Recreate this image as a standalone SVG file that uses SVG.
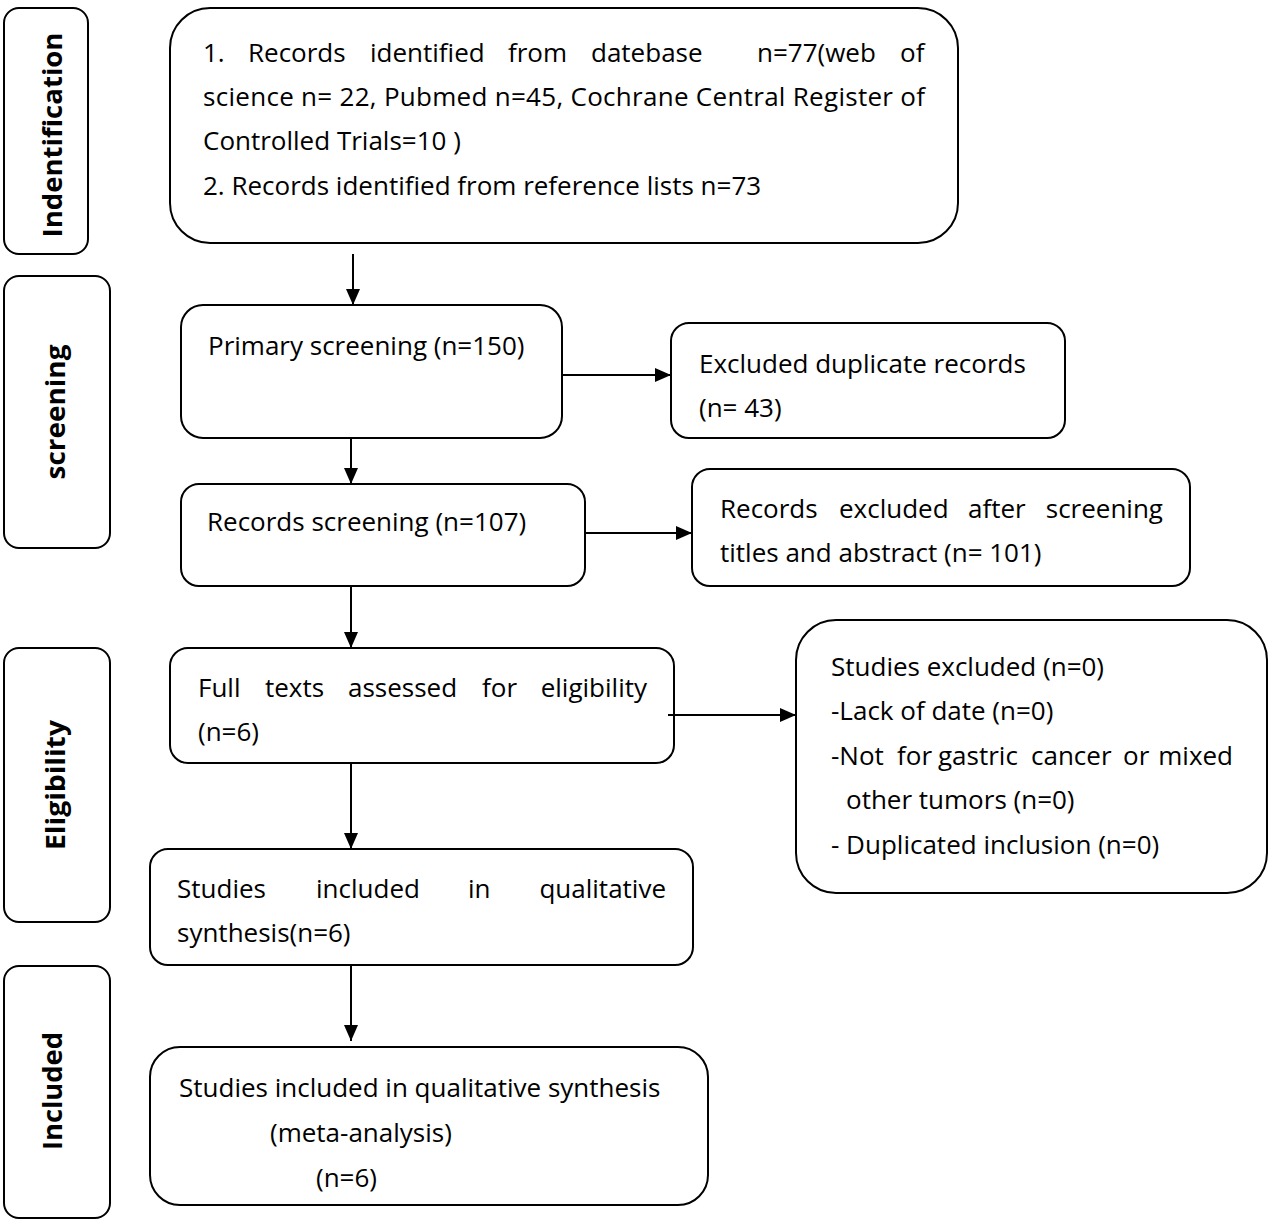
<svg xmlns="http://www.w3.org/2000/svg" width="1272" height="1224" viewBox="0 0 1272 1224">
<defs>
<marker id="ah" viewBox="0 0 16 14" refX="16" refY="7" markerWidth="16" markerHeight="14" markerUnits="userSpaceOnUse" orient="auto">
<path d="M0,0 L16,7 L0,14 Z" fill="#000"/>
</marker>
<style>
.box{fill:#fff;stroke:#000;stroke-width:2}
.t{font-family:"Open Sans","Liberation Sans",sans-serif;font-size:26px;fill:#000}
.s{font-family:"Open Sans","Liberation Sans",sans-serif;font-size:27px;font-weight:bold;fill:#000}
.c{stroke:#000;stroke-width:2;fill:none;marker-end:url(#ah)}
</style>
</defs>
<rect width="1272" height="1224" fill="#fff"/>

<g id="stage-identification">
<rect class="box" x="4" y="8" width="84" height="246" rx="15"/>
<text class="s" transform="translate(62,135) rotate(-90)" text-anchor="middle" textLength="205" lengthAdjust="spacingAndGlyphs">Indentification</text>
</g>
<g id="stage-screening">
<rect class="box" x="4" y="276" width="106" height="272" rx="15"/>
<text class="s" transform="translate(65,412) rotate(-90)" text-anchor="middle" textLength="135" lengthAdjust="spacingAndGlyphs">screening</text>
</g>
<g id="stage-eligibility">
<rect class="box" x="4" y="648" width="106" height="274" rx="15"/>
<text class="s" transform="translate(65,785) rotate(-90)" text-anchor="middle" textLength="130" lengthAdjust="spacingAndGlyphs">Eligibility</text>
</g>
<g id="stage-included">
<rect class="box" x="4" y="966" width="106" height="252" rx="15"/>
<text class="s" transform="translate(62,1091) rotate(-90)" text-anchor="middle" textLength="118" lengthAdjust="spacingAndGlyphs">Included</text>
</g>

<g id="records-identified">
<rect class="box" x="170" y="8" width="788" height="235" rx="40"/>
<text class="t" y="62"><tspan x="203">1.</tspan><tspan x="248">Records</tspan><tspan x="370">identified</tspan><tspan x="508">from</tspan><tspan x="591">datebase</tspan><tspan x="757">n=77(web</tspan><tspan x="900">of</tspan></text>
<text class="t" x="203" y="106" textLength="722" lengthAdjust="spacing">science n= 22, Pubmed n=45, Cochrane Central Register of</text>
<text class="t" x="203" y="150">Controlled Trials=10 )</text>
<text class="t" x="203" y="195">2. Records identified from reference lists n=73</text>
</g>

<g id="primary-screening">
<rect class="box" x="181" y="305" width="381" height="133" rx="22"/>
<text class="t" x="208" y="355">Primary screening (n=150)</text>
</g>

<g id="excluded-duplicates">
<rect class="box" x="671" y="323" width="394" height="115" rx="18"/>
<text class="t" x="699" y="373">Excluded duplicate records</text>
<text class="t" x="699" y="417">(n= 43)</text>
</g>

<g id="records-screening">
<rect class="box" x="181" y="484" width="404" height="102" rx="18"/>
<text class="t" x="207" y="531">Records screening (n=107)</text>
</g>

<g id="records-excluded">
<rect class="box" x="692" y="469" width="498" height="117" rx="18"/>
<text class="t" y="518"><tspan x="720">Records</tspan><tspan x="839">excluded</tspan><tspan x="968">after</tspan></text>
<text class="t" x="1163" y="518" text-anchor="end">screening</text>
<text class="t" x="720" y="562">titles and abstract (n= 101)</text>
</g>

<g id="full-texts">
<rect class="box" x="170" y="648" width="504" height="115" rx="18"/>
<text class="t" y="697"><tspan x="198">Full</tspan><tspan x="265">texts</tspan><tspan x="348">assessed</tspan><tspan x="482">for</tspan></text>
<text class="t" x="647" y="697" text-anchor="end">eligibility</text>
<text class="t" x="198" y="741">(n=6)</text>
</g>

<g id="studies-excluded">
<rect class="box" x="796" y="620" width="471" height="273" rx="40"/>
<text class="t" x="831" y="676">Studies excluded (n=0)</text>
<text class="t" x="831" y="720">-Lack of date (n=0)</text>
<text class="t" y="765"><tspan x="831">-Not</tspan><tspan x="897">for</tspan><tspan x="938">gastric</tspan><tspan x="1031">cancer</tspan><tspan x="1123">or</tspan></text>
<text class="t" x="1233" y="765" text-anchor="end">mixed</text>
<text class="t" x="846" y="809">other tumors (n=0)</text>
<text class="t" x="831" y="854">- Duplicated inclusion (n=0)</text>
</g>

<g id="qualitative-synthesis">
<rect class="box" x="150" y="849" width="543" height="116" rx="18"/>
<text class="t" y="898"><tspan x="177">Studies</tspan><tspan x="316">included</tspan><tspan x="468">in</tspan></text>
<text class="t" x="666" y="898" text-anchor="end">qualitative</text>
<text class="t" x="177" y="942">synthesis(n=6)</text>
</g>

<g id="meta-analysis">
<rect class="box" x="150" y="1047" width="558" height="158" rx="30"/>
<text class="t" x="179" y="1097">Studies included in qualitative synthesis</text>
<text class="t" x="270" y="1142">(meta-analysis)</text>
<text class="t" x="316" y="1187">(n=6)</text>
</g>

<g id="connectors">
<line class="c" x1="353" y1="254" x2="353" y2="305"/>
<line class="c" x1="351" y1="438" x2="351" y2="484"/>
<line class="c" x1="351" y1="586" x2="351" y2="648"/>
<line class="c" x1="351" y1="763" x2="351" y2="849"/>
<line class="c" x1="351" y1="965" x2="351" y2="1041"/>
<line class="c" x1="562" y1="375" x2="671" y2="375"/>
<line class="c" x1="585" y1="533" x2="692" y2="533"/>
<line class="c" x1="668" y1="715" x2="796" y2="715"/>
</g>
</svg>
